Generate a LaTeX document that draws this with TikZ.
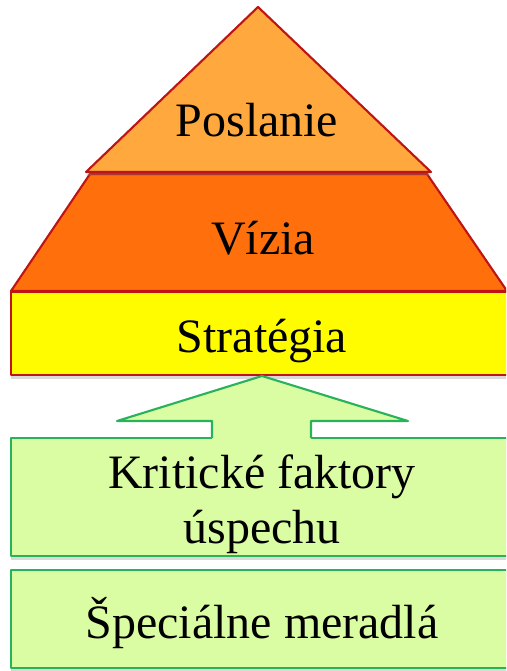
\documentclass[tikz,border=0pt]{standalone}
\usepackage{fontspec}
\setmainfont{Liberation Serif}
\usetikzlibrary{shadows}
\definecolor{rcol}{RGB}{190,20,20}
\definecolor{gcol}{RGB}{40,178,90}
\definecolor{ocol}{RGB}{255,168,62}
\definecolor{dcol}{RGB}{255,112,12}
\definecolor{ycol}{RGB}{255,252,0}
\definecolor{lcol}{RGB}{218,252,162}
\tikzset{every picture/.style={x=0.02cm,y=-0.02cm}}
\tikzset{rbox/.style={draw=rcol,line width=1.2pt,line join=round}}
\tikzset{gbox/.style={draw=gcol,fill=lcol,line width=1.2pt,line join=round}}
\tikzset{shd/.style={drop shadow={opacity=.3,shadow xshift=0pt,shadow yshift=-2pt}}}
\tikzset{txt/.style={font=\fontsize{27.3}{32}\selectfont,anchor=base,inner sep=0pt}}

\begin{document}
\begin{tikzpicture}
\useasboundingbox (0,0) rectangle (506,671);
\clip (0,0) rectangle (506,671);

% pyramid
\draw [rbox,fill=dcol,shd] (90,174) -- (427,174) -- (507,291) -- (11,291) -- cycle;
\draw [rbox,fill=ocol,shd] (258,7) -- (431,172) -- (86,172) -- cycle;
\draw [rbox,fill=ycol,shd] (11,292) rectangle (520,375);

% green boxes
\draw [gbox,shd] (11,438) rectangle (520,556);
\draw [gbox,shd] (11,570) rectangle (520,668);

% arrow
\coordinate (tip) at (262,376);
\coordinate (wl) at (117,421);
\coordinate (wr) at (408,421);
\coordinate (sl) at (212,421);
\coordinate (sr) at (311,421);
\coordinate (bl) at (212,438);
\coordinate (br) at (311,438);
\fill [lcol] (tip) -- (wr) -- (sr) -- ([yshift=-4]br) -- ([yshift=-4]bl) -- (sl) -- (wl) -- cycle;
\draw [gcol,line width=1.2pt,line join=round] (bl) -- (sl) -- (wl) -- (tip) -- (wr) -- (sr) -- (br);

\node [txt] (poslanie) at (257,137) {Poslanie};
\node [txt] (vizia) at (263,255) {Vízia};
\node [txt] (strategia) at (262,353) {Stratégia};
\node [txt] (kritick) at (262,488) {Kritické faktory};
\node [txt] (uspech) at (262,543) {úspechu};
\node [txt] (meradla) at (262,638) {Špeciálne meradlá};
\end{tikzpicture}
\end{document}
